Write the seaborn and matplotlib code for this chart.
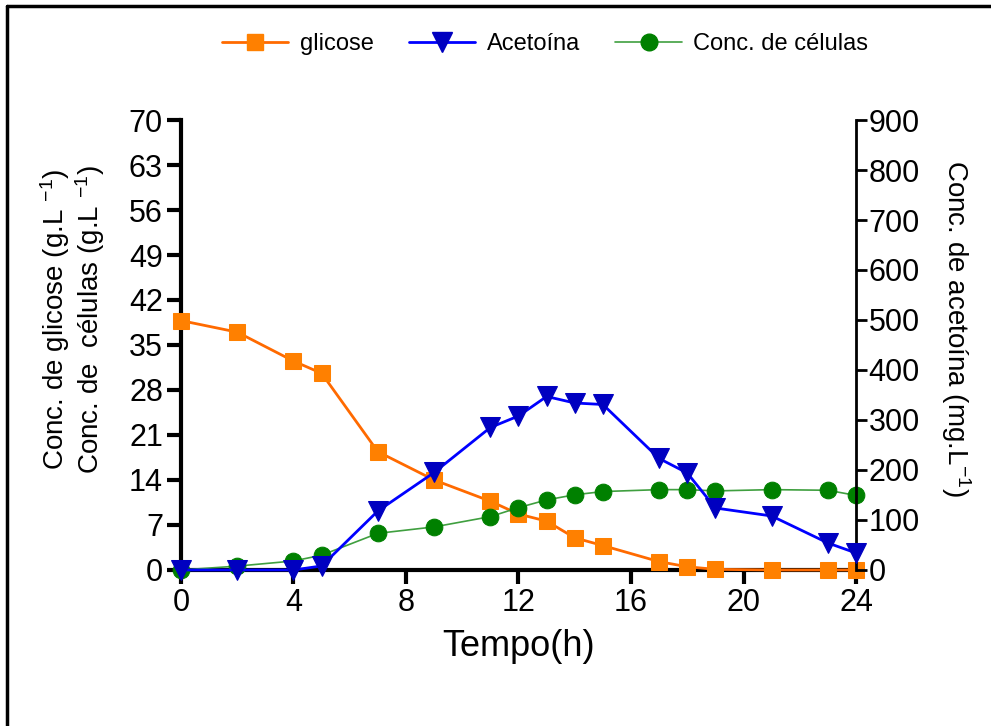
import matplotlib
matplotlib.use("Agg")
import numpy as np
import pandas as pd
import seaborn as sns
import matplotlib.pyplot as plt
from matplotlib.lines import Line2D

# data
tempo = [0, 2, 4, 5, 7, 9, 11, 12, 13, 14, 15, 17, 18, 19, 21, 23, 24]
glicose = [38.8, 37.0, 32.5, 30.6, 18.4, 14.0, 10.7, 8.7, 7.6, 5.0, 3.8, 1.3, 0.5, 0.1, 0.0, 0.0, 0.0]
acetoina = [0, 0, 0, 8, 118, 195, 285, 308, 347, 334, 331, 223, 194, 124, 108, 54, 34]
celulas = [0.0, 0.6, 1.4, 2.3, 5.7, 6.7, 8.3, 9.7, 10.9, 11.7, 12.2, 12.5, 12.5, 12.3, 12.5, 12.4, 11.6]

sns.set_style("white")
plt.rcParams['font.family'] = ['Liberation Sans', 'DejaVu Sans']
plt.rcParams['mathtext.fontset'] = 'custom'
plt.rcParams['mathtext.rm'] = 'Liberation Sans'
plt.rcParams['mathtext.it'] = 'Liberation Sans'
plt.rcParams['text.color'] = 'black'
plt.rcParams['axes.labelcolor'] = 'black'

df = pd.DataFrame({"tempo": tempo, "glicose": glicose,
                   "acetoina": acetoina, "celulas": celulas})

fig = plt.figure(figsize=(9.91, 7.26), dpi=100)
ax = fig.add_axes([0.1826, 0.2149, 0.6812, 0.6198])
ax2 = ax.twinx()

sns.lineplot(data=df, x="tempo", y="glicose", ax=ax, color="#ff6a00", lw=2,
             marker="s", markersize=12, markerfacecolor="#ff8000",
             markeredgecolor="#ff8000", zorder=3)
sns.lineplot(data=df, x="tempo", y="celulas", ax=ax, color="#3f9f3f", lw=1.2,
             marker="o", markersize=12, markerfacecolor="#008000",
             markeredgecolor="#008000", zorder=4)
sns.lineplot(data=df, x="tempo", y="acetoina", ax=ax2, color="#0000ff", lw=2,
             marker="v", markersize=14, markerfacecolor="#0000c0",
             markeredgecolor="#0000c0", zorder=3)

ax.set_xlim(0, 24)
ax.set_ylim(0, 70)
ax2.set_ylim(0, 900)
ax.set_xticks(range(0, 25, 4))
ax.set_yticks(range(0, 71, 7))
ax2.set_yticks(range(0, 901, 100))

for s in ["top", "right"]:
    ax.spines[s].set_visible(False)
for s in ["top", "left", "bottom"]:
    ax2.spines[s].set_visible(False)
ax.spines["left"].set_linewidth(3)
ax.spines["bottom"].set_linewidth(3)
ax2.spines["right"].set_linewidth(2)
for sp in ax.spines.values():
    sp.set_color("black")
ax2.spines["right"].set_color("black")
for ln in ax.lines + ax2.lines:
    ln.set_clip_on(False)

ax.tick_params(axis="both", direction="out", length=10, width=3, labelsize=22,
               left=True, bottom=True, pad=3, colors="black")
ax2.tick_params(axis="y", direction="out", length=8, width=2, labelsize=22,
                right=True, pad=1, colors="black")

ax.set_xlabel("Tempo(h)", fontsize=26, labelpad=8)
ax.set_ylabel("Conc. de glicose (g.L $^{-1}$)\nConc. de  células (g.L $^{-1}$)",
              fontsize=20, linespacing=1.05)
ax.yaxis.set_label_coords(-0.11, 0.556)
ax2.set_ylabel("Conc. de acetoína (mg.L$^{-1}$)", fontsize=20, rotation=270,
               va="bottom")
ax2.yaxis.set_label_coords(1.123, 0.536)

handles = [
    Line2D([], [], color="#ff6a00", lw=2, marker="s", markersize=12,
           markerfacecolor="#ff8000", markeredgecolor="#ff8000"),
    Line2D([], [], color="#0000ff", lw=2, marker="v", markersize=14,
           markerfacecolor="#0000c0", markeredgecolor="#0000c0"),
    Line2D([], [], color="#3f9f3f", lw=1.2, marker="o", markersize=12,
           markerfacecolor="#008000", markeredgecolor="#008000"),
]
fig.legend(handles, ["glicose", "Acetoína", "Conc. de células"],
           loc="center", bbox_to_anchor=(0.55, 0.939), ncol=3, frameon=False,
           fontsize=17, handlelength=2.8, columnspacing=1.5, handletextpad=0.5)

# outer frame (only top and left edges visible in the picture)
fig.add_artist(Line2D([7 / 991, 1.0], [1 - 6 / 726, 1 - 6 / 726],
                      transform=fig.transFigure, color="black", lw=2.5))
fig.add_artist(Line2D([7 / 991, 7 / 991], [0.0, 1 - 6 / 726],
                      transform=fig.transFigure, color="black", lw=2.5))

fig.savefig("out.png", dpi=100)
